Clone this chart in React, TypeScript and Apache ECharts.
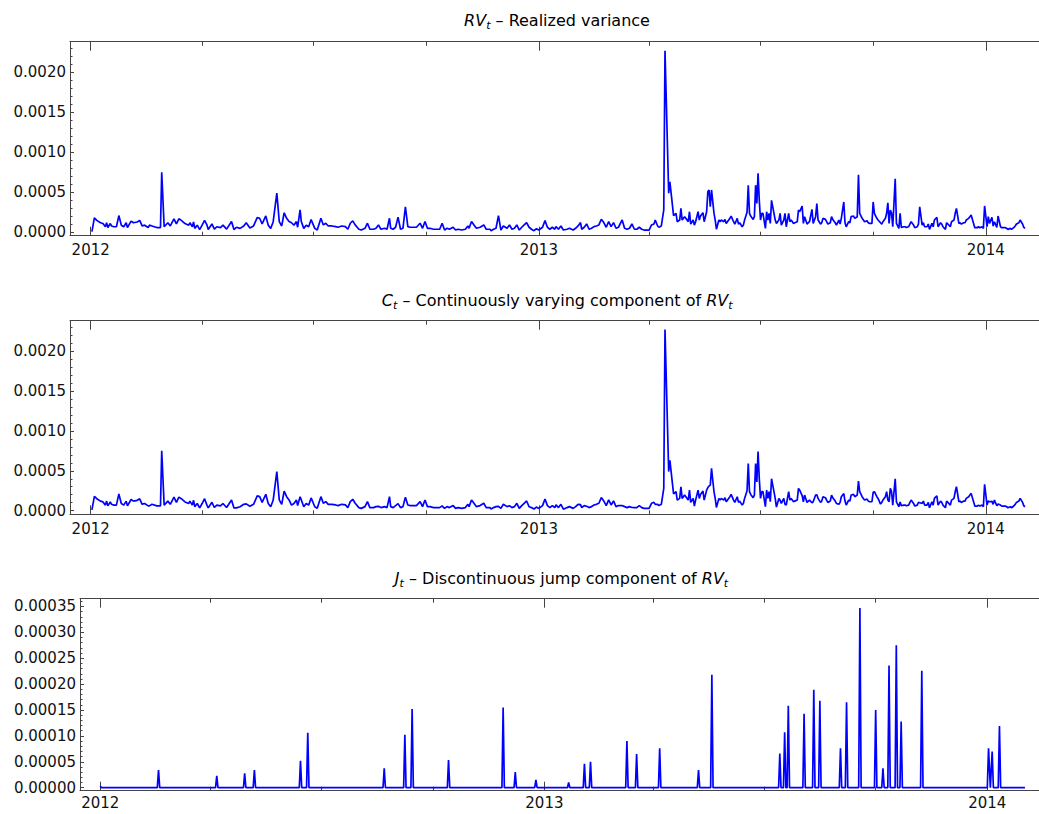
import React, { useEffect, useRef } from "react";
import * as echarts from "echarts";

const FONT = "DejaVu Sans";
const FRAME = "#444444";
const LABEL = "#111111";
const LINE = "#0000ff";
const DAY_MS = 86400000;
const START = Date.UTC(2012, 0, 1);

const yearLabels = ["2012", "2013", "2014"];
const yearDates = ["2012-01-01", "2013-01-01", "2014-01-01"];
const quarterDates = ["2012-04-01", "2012-07-01", "2012-10-01", "2013-04-01", "2013-07-01", "2013-10-01"];
const rvTickValues = [0, 0.0005, 0.001, 0.0015, 0.002];
const jTickValues = [0, 0.00005, 0.0001, 0.00015, 0.0002, 0.00025, 0.0003, 0.00035];

// [days since 2012-01-01, value]
const rvSeries: [number, number][] = [
  [1, 1e-5], [3, 18e-5], [5, 15e-5], [8, 12e-5], [10, 11e-5], [12, 7e-5], [13, 12e-5], [14, 6e-5], [16, 11e-5], [17, 8e-5],
  [19, 7e-5], [21, 7e-5], [23, 21e-5], [25, 9e-5], [27, 7e-5], [29, 12e-5], [30, 6e-5], [33, 14e-5], [35, 12e-5], [38, 13e-5],
  [40, 15e-5], [42, 8e-5], [44, 9e-5], [47, 6e-5], [48, 9e-5], [50, 8e-5], [54, 6e-5], [57, 6e-5], [58, 75e-5], [60, 7e-5],
  [63, 12e-5], [65, 8e-5], [68, 17e-5], [70, 10.5e-5], [72, 17e-5], [74, 15e-5], [77, 11e-5], [80, 9e-5], [81, 12e-5], [83, 7e-5],
  [84, 13e-5], [85, 5e-5], [87, 9e-5], [89, 3.5e-5], [91, 9e-5], [93, 15e-5], [95, 9e-5], [96, 3.5e-5], [99, 10.5e-5], [101, 4e-5],
  [103, 7e-5], [106, 6e-5], [108, 9e-5], [111, 4e-5], [115, 13.5e-5], [117, 3.5e-5], [119, 6.4e-5], [122, 5e-5], [125, 8e-5], [127, 12e-5],
  [130, 5.5e-5], [133, 8e-5], [136, 18.5e-5], [138, 17.6e-5], [140, 10.5e-5], [143, 20.5e-5], [145, 9e-5], [147, 5e-5], [149, 13e-5], [152, 49e-5],
  [154, 13.5e-5], [156, 8e-5], [158, 24.5e-5], [160, 17.6e-5], [162, 13.5e-5], [164, 12e-5], [166, 9e-5], [168, 13.5e-5], [169, 6.4e-5], [171, 28e-5],
  [172, 13.5e-5], [174, 5e-5], [176, 9e-5], [178, 7e-5], [180, 16e-5], [183, 5e-5], [185, 3e-5], [188, 17.6e-5], [190, 9.3e-5], [192, 11.4e-5],
  [194, 8e-5], [197, 8e-5], [200, 7.2e-5], [202, 6.4e-5], [205, 8e-5], [208, 7.2e-5], [210, 3.9e-5], [212, 11.4e-5], [214, 14.3e-5], [216, 9.3e-5],
  [219, 3.9e-5], [221, 2.9e-5], [224, 5.1e-5], [226, 11.4e-5], [228, 3.9e-5], [231, 3.9e-5], [233, 5.1e-5], [235, 9.3e-5], [237, 3.9e-5], [240, 5.1e-5],
  [242, 3.9e-5], [244, 17.6e-5], [245, 5.1e-5], [247, 3.9e-5], [249, 6.4e-5], [251, 19e-5], [253, 3.9e-5], [255, 5.1e-5], [257, 32e-5], [259, 7.2e-5],
  [261, 6.4e-5], [264, 6.4e-5], [266, 6.4e-5], [269, 11.4e-5], [271, 5.1e-5], [273, 13.5e-5], [275, 5.1e-5], [277, 5.1e-5], [280, 3.9e-5], [283, 3.9e-5],
  [285, 3.9e-5], [287, 11.4e-5], [289, 2.9e-5], [291, 5.1e-5], [293, 3.9e-5], [296, 6.4e-5], [298, 2.9e-5], [300, 3.9e-5], [303, 2.9e-5], [306, 3.9e-5],
  [308, 8e-5], [309, 5.1e-5], [311, 13.5e-5], [313, 9.3e-5], [315, 5.1e-5], [318, 6.4e-5], [321, 9.3e-5], [323, 3.9e-5], [326, 3.9e-5], [327, 2.1e-5],
  [329, 3.9e-5], [331, 5.1e-5], [333, 21e-5], [335, 2.9e-5], [337, 8e-5], [340, 5.1e-5], [342, 9.3e-5], [344, 3.9e-5], [346, 5.1e-5], [348, 9.3e-5],
  [350, 2.9e-5], [352, 6.4e-5], [354, 9.3e-5], [356, 12.2e-5], [358, 6.4e-5], [360, 3.9e-5], [362, 2.1e-5], [364, 4.5e-5], [366, 2.9e-5], [369, 6.4e-5],
  [371, 14.7e-5], [373, 6.4e-5], [375, 3.9e-5], [377, 6.4e-5], [379, 3.9e-5], [380, 7.2e-5], [382, 3.9e-5], [384, 8e-5], [386, 2.9e-5], [389, 3.9e-5],
  [391, 5.1e-5], [394, 2.9e-5], [396, 5.1e-5], [398, 8e-5], [400, 12.2e-5], [401, 3.9e-5], [403, 6.4e-5], [405, 10.5e-5], [407, 3.9e-5], [409, 5.1e-5],
  [411, 7.2e-5], [413, 8e-5], [415, 9.3e-5], [417, 16.4e-5], [419, 12.2e-5], [421, 6.4e-5], [423, 13.5e-5], [425, 7.2e-5], [427, 12.2e-5], [429, 5.1e-5],
  [431, 6.4e-5], [434, 15.5e-5], [436, 5.1e-5], [438, 3.9e-5], [440, 5.1e-5], [442, 10.5e-5], [444, 3.9e-5], [446, 3.9e-5], [448, 6.4e-5], [450, 3.9e-5],
  [452, 2.9e-5], [454, 2.9e-5], [456, 2.9e-5], [458, 9.3e-5], [460, 10.5e-5], [461, 15.5e-5], [463, 8e-5], [464, 6.4e-5], [466, 8e-5], [468, 28e-5],
  [469, 227e-5], [472, 49e-5], [473, 63e-5], [474, 49e-5], [476, 21e-5], [478, 23.8e-5], [479, 13.3e-5], [481, 15.4e-5], [482, 30e-5], [483, 15.4e-5],
  [485, 19.6e-5], [486, 17.5e-5], [488, 13.3e-5], [489, 25.8e-5], [490, 10.4e-5], [492, 15.4e-5], [493, 9.1e-5], [494, 13.3e-5], [496, 25.8e-5], [497, 15.4e-5],
  [498, 20.4e-5], [500, 24.6e-5], [501, 13.3e-5], [503, 25.8e-5], [504, 51e-5], [505, 53e-5], [506, 32e-5], [507, 53e-5], [509, 24e-5], [510, 15.4e-5],
  [511, 4e-5], [513, 15.4e-5], [514, 13.3e-5], [515, 15.4e-5], [517, 13.3e-5], [518, 16.2e-5], [519, 11.2e-5], [521, 15.4e-5], [522, 17.5e-5], [523, 20.4e-5],
  [525, 13.3e-5], [526, 10.4e-5], [528, 17.5e-5], [529, 10.4e-5], [530, 12e-5], [532, 7e-5], [533, 9.1e-5], [534, 15.4e-5], [536, 25e-5], [537, 59e-5],
  [538, 23.8e-5], [539, 20.4e-5], [541, 16.2e-5], [542, 19.6e-5], [543, 59e-5], [544, 36e-5], [545, 74e-5], [546, 40e-5], [547, 15.4e-5], [548, 23.8e-5],
  [549, 23.8e-5], [551, 5e-5], [552, 25.8e-5], [553, 15.4e-5], [554, 23.8e-5], [555, 11.2e-5], [556, 40e-5], [558, 23.8e-5], [559, 15.4e-5], [560, 11.2e-5],
  [562, 15.4e-5], [563, 23.8e-5], [564, 9.1e-5], [566, 15.4e-5], [567, 23.8e-5], [568, 7e-5], [570, 23.8e-5], [571, 13.3e-5], [572, 15.4e-5], [574, 11.2e-5],
  [575, 12e-5], [577, 13.3e-5], [578, 27.9e-5], [579, 25.8e-5], [581, 33e-5], [582, 11.2e-5], [583, 19.6e-5], [585, 10.4e-5], [586, 12e-5], [587, 13.3e-5],
  [589, 28.7e-5], [590, 11.2e-5], [592, 19.6e-5], [593, 36e-5], [594, 15.4e-5], [596, 10.4e-5], [597, 12e-5], [598, 17.5e-5], [600, 16.2e-5], [601, 13.3e-5],
  [602, 10.4e-5], [604, 12e-5], [605, 19.6e-5], [606, 16.2e-5], [608, 12e-5], [609, 9.1e-5], [611, 15.4e-5], [612, 10.4e-5], [613, 17.5e-5], [615, 38e-5],
  [616, 12e-5], [617, 7e-5], [619, 13.3e-5], [620, 12e-5], [621, 19.6e-5], [623, 20.4e-5], [624, 17.5e-5], [626, 19.6e-5], [627, 72e-5], [628, 23.8e-5],
  [630, 17.5e-5], [631, 15.4e-5], [632, 13.3e-5], [634, 14.5e-5], [635, 12e-5], [636, 11.2e-5], [638, 11.2e-5], [639, 38e-5], [640, 23.8e-5], [642, 17.5e-5],
  [643, 15.4e-5], [645, 12e-5], [646, 10.4e-5], [647, 13.3e-5], [649, 17.5e-5], [650, 23.8e-5], [651, 37e-5], [652, 11.2e-5], [653, 28e-5], [654, 24e-5],
  [655, 7e-5], [657, 67e-5], [658, 11.2e-5], [660, 5e-5], [661, 23.8e-5], [662, 6.2e-5], [664, 7e-5], [665, 7e-5], [666, 6.2e-5], [668, 7e-5],
  [669, 10.4e-5], [670, 13.3e-5], [672, 9.1e-5], [673, 5.8e-5], [675, 7e-5], [676, 10.4e-5], [677, 32e-5], [679, 9.1e-5], [680, 12e-5], [681, 7e-5],
  [683, 7e-5], [684, 10.4e-5], [685, 3.7e-5], [687, 11.2e-5], [688, 7e-5], [689, 15.4e-5], [691, 18.7e-5], [692, 7e-5], [694, 12e-5], [695, 10.4e-5],
  [696, 7e-5], [698, 3.7e-5], [699, 12e-5], [700, 10.4e-5], [702, 7e-5], [703, 13.3e-5], [705, 15.4e-5], [706, 23.8e-5], [707, 30e-5], [709, 11.2e-5],
  [710, 12e-5], [711, 10.4e-5], [713, 12e-5], [714, 12e-5], [715, 15.4e-5], [717, 17.5e-5], [718, 19.6e-5], [719, 21.7e-5], [721, 11.2e-5], [722, 5.8e-5],
  [724, 5.8e-5], [725, 7e-5], [726, 5.8e-5], [728, 7e-5], [729, 5e-5], [730, 33e-5], [732, 7e-5], [733, 19.6e-5], [734, 11.2e-5], [736, 18.7e-5],
  [737, 7.9e-5], [738, 13.3e-5], [740, 6.2e-5], [741, 20.4e-5], [743, 7e-5], [744, 5.8e-5], [745, 5.8e-5], [747, 5.8e-5], [748, 5e-5], [749, 3.7e-5],
  [751, 5e-5], [752, 3.7e-5], [754, 6.2e-5], [755, 7.9e-5], [756, 10.4e-5], [758, 12e-5], [759, 15.4e-5], [761, 10.4e-5], [762, 6.2e-5], [763, 5e-5],
];

const cSeries: [number, number][] = [
  [1, 1e-5], [3, 18e-5], [5, 15e-5], [8, 12e-5], [10, 11e-5], [12, 7e-5], [13, 12e-5], [14, 6e-5], [16, 11e-5], [17, 8e-5],
  [19, 7e-5], [21, 7e-5], [23, 21e-5], [25, 9e-5], [27, 7e-5], [29, 12e-5], [30, 6e-5], [33, 14e-5], [35, 12e-5], [38, 13e-5],
  [40, 15e-5], [42, 8e-5], [44, 9e-5], [47, 6e-5], [48, 6e-5], [50, 8e-5], [54, 6e-5], [57, 6e-5], [58, 75e-5], [60, 7e-5],
  [63, 12e-5], [65, 8e-5], [68, 17e-5], [70, 10.5e-5], [72, 17e-5], [74, 15e-5], [77, 11e-5], [80, 9e-5], [81, 12e-5], [83, 7e-5],
  [84, 13e-5], [85, 5e-5], [87, 9e-5], [89, 3.5e-5], [91, 9e-5], [93, 15e-5], [95, 6.7e-5], [96, 3.5e-5], [99, 10.5e-5], [101, 4e-5],
  [103, 7e-5], [106, 6e-5], [108, 9e-5], [111, 4e-5], [115, 13.5e-5], [117, 3.5e-5], [119, 3.6e-5], [122, 5e-5], [125, 8e-5], [127, 8.6e-5],
  [130, 5.5e-5], [133, 8e-5], [136, 18.5e-5], [138, 17.6e-5], [140, 10.5e-5], [143, 20.5e-5], [145, 9e-5], [147, 5e-5], [149, 13e-5], [152, 49e-5],
  [154, 13.5e-5], [156, 8e-5], [158, 24.5e-5], [160, 17.6e-5], [162, 13.5e-5], [164, 7e-5], [166, 9e-5], [168, 13.5e-5], [169, 6.4e-5], [171, 17.4e-5],
  [172, 13.5e-5], [174, 5e-5], [176, 9e-5], [178, 7e-5], [180, 16e-5], [183, 5e-5], [185, 3e-5], [188, 17.6e-5], [190, 9.3e-5], [192, 11.4e-5],
  [194, 8e-5], [197, 8e-5], [200, 7.2e-5], [202, 6.4e-5], [205, 8e-5], [208, 7.2e-5], [210, 3.9e-5], [212, 11.4e-5], [214, 14.3e-5], [216, 9.3e-5],
  [219, 3.9e-5], [221, 2.9e-5], [224, 5.1e-5], [226, 11.4e-5], [228, 3.9e-5], [231, 3.9e-5], [233, 5.1e-5], [235, 5.5e-5], [237, 3.9e-5], [240, 5.1e-5],
  [242, 3.9e-5], [244, 17.6e-5], [245, 5.1e-5], [247, 3.9e-5], [249, 6.4e-5], [251, 8.8e-5], [253, 3.9e-5], [255, 5.1e-5], [257, 16.8e-5], [259, 7.2e-5],
  [261, 6.4e-5], [264, 6.4e-5], [266, 6.4e-5], [269, 11.4e-5], [271, 5.1e-5], [273, 13.5e-5], [275, 5.1e-5], [277, 5.1e-5], [280, 3.9e-5], [283, 3.9e-5],
  [285, 3.9e-5], [287, 6e-5], [289, 2.9e-5], [291, 5.1e-5], [293, 3.9e-5], [296, 6.4e-5], [298, 2.9e-5], [300, 3.9e-5], [303, 2.9e-5], [306, 3.9e-5],
  [308, 8e-5], [309, 5.1e-5], [311, 13.5e-5], [313, 9.3e-5], [315, 5.1e-5], [318, 6.4e-5], [321, 9.3e-5], [323, 3.9e-5], [326, 3.9e-5], [327, 2.1e-5],
  [329, 3.9e-5], [331, 5.1e-5], [333, 5.5e-5], [335, 2.9e-5], [337, 8e-5], [340, 5.1e-5], [342, 6.3e-5], [344, 3.9e-5], [346, 5.1e-5], [348, 9.3e-5],
  [350, 2.9e-5], [352, 6.4e-5], [354, 9.3e-5], [356, 12.2e-5], [358, 4.9e-5], [360, 3.9e-5], [362, 2.1e-5], [364, 4.5e-5], [366, 2.9e-5], [369, 6.4e-5],
  [371, 14.7e-5], [373, 6.4e-5], [375, 3.9e-5], [377, 6.4e-5], [379, 3.9e-5], [380, 7.2e-5], [382, 3.9e-5], [384, 8e-5], [386, 1.9e-5], [389, 3.9e-5],
  [391, 5.1e-5], [394, 2.9e-5], [396, 5.1e-5], [398, 8e-5], [400, 7.6e-5], [401, 3.9e-5], [403, 6.4e-5], [405, 5.5e-5], [407, 3.9e-5], [409, 5.1e-5],
  [411, 7.2e-5], [413, 8e-5], [415, 9.3e-5], [417, 16.4e-5], [419, 12.2e-5], [421, 6.4e-5], [423, 13.5e-5], [425, 7.2e-5], [427, 12.2e-5], [429, 5.1e-5],
  [431, 6.4e-5], [434, 6.5e-5], [436, 5.1e-5], [438, 3.9e-5], [440, 5.1e-5], [442, 4e-5], [444, 3.9e-5], [446, 3.9e-5], [448, 6.4e-5], [450, 3.9e-5],
  [452, 2.9e-5], [454, 2.9e-5], [456, 2.9e-5], [458, 9.3e-5], [460, 10.5e-5], [461, 7.9e-5], [463, 8e-5], [464, 6.4e-5], [466, 8e-5], [468, 28e-5],
  [469, 227e-5], [472, 49e-5], [473, 63e-5], [474, 49e-5], [476, 21e-5], [478, 23.8e-5], [479, 13.3e-5], [481, 15.4e-5], [482, 30e-5], [483, 15.4e-5],
  [485, 19.6e-5], [486, 17.5e-5], [488, 13.3e-5], [489, 25.8e-5], [490, 10.4e-5], [492, 15.4e-5], [493, 5.7e-5], [494, 13.3e-5], [496, 25.8e-5], [497, 15.4e-5],
  [498, 20.4e-5], [500, 24.6e-5], [501, 13.3e-5], [503, 25.8e-5], [504, 29e-5], [505, 31e-5], [506, 32e-5], [507, 53e-5], [509, 24e-5], [510, 15.4e-5],
  [511, 4e-5], [513, 15.4e-5], [514, 13.3e-5], [515, 15.4e-5], [517, 13.3e-5], [518, 16.2e-5], [519, 11.2e-5], [521, 15.4e-5], [522, 17.5e-5], [523, 20.4e-5],
  [525, 13.3e-5], [526, 10.4e-5], [528, 17.5e-5], [529, 10.4e-5], [530, 12e-5], [532, 7e-5], [533, 9.1e-5], [534, 15.4e-5], [536, 25e-5], [537, 59e-5],
  [538, 23.8e-5], [539, 20.4e-5], [541, 16.2e-5], [542, 19.6e-5], [543, 59e-5], [544, 36e-5], [545, 74e-5], [546, 40e-5], [547, 15.4e-5], [548, 23.8e-5],
  [549, 23.8e-5], [551, 5e-5], [552, 25.8e-5], [553, 15.4e-5], [554, 23.8e-5], [555, 11.2e-5], [556, 40e-5], [558, 23.8e-5], [559, 15.4e-5], [560, 4.6e-5],
  [562, 15.4e-5], [563, 13e-5], [564, 9.1e-5], [566, 15.4e-5], [567, 8e-5], [568, 7e-5], [570, 23.8e-5], [571, 13.3e-5], [572, 15.4e-5], [574, 11.2e-5],
  [575, 12e-5], [577, 13.3e-5], [578, 27.9e-5], [579, 25.8e-5], [581, 19e-5], [582, 11.2e-5], [583, 19.6e-5], [585, 10.4e-5], [586, 12e-5], [587, 13.3e-5],
  [589, 10e-5], [590, 11.2e-5], [592, 19.6e-5], [593, 20e-5], [594, 15.4e-5], [596, 10.4e-5], [597, 12e-5], [598, 17.5e-5], [600, 16.2e-5], [601, 13.3e-5],
  [602, 10.4e-5], [604, 12e-5], [605, 19.6e-5], [606, 16.2e-5], [608, 12e-5], [609, 9.1e-5], [611, 8e-5], [612, 10.4e-5], [613, 17.5e-5], [615, 21.5e-5],
  [616, 12e-5], [617, 7e-5], [619, 13.3e-5], [620, 12e-5], [621, 19.6e-5], [623, 20.4e-5], [624, 17.5e-5], [626, 19.6e-5], [627, 37e-5], [628, 23.8e-5],
  [630, 17.5e-5], [631, 15.4e-5], [632, 13.3e-5], [634, 14.5e-5], [635, 12e-5], [636, 11.2e-5], [638, 11.2e-5], [639, 23e-5], [640, 23.8e-5], [642, 17.5e-5],
  [643, 15.4e-5], [645, 8.3e-5], [646, 10.4e-5], [647, 13.3e-5], [649, 17.5e-5], [650, 23.8e-5], [651, 13.4e-5], [652, 11.2e-5], [653, 28e-5], [654, 24e-5],
  [655, 7e-5], [657, 40e-5], [658, 11.2e-5], [660, 5e-5], [661, 11e-5], [662, 6.2e-5], [664, 7e-5], [665, 7e-5], [666, 6.2e-5], [668, 7e-5],
  [669, 10.4e-5], [670, 13.3e-5], [672, 9.1e-5], [673, 5.8e-5], [675, 7e-5], [676, 10.4e-5], [677, 10e-5], [679, 9.1e-5], [680, 12e-5], [681, 7e-5],
  [683, 7e-5], [684, 10.4e-5], [685, 3.7e-5], [687, 11.2e-5], [688, 7e-5], [689, 15.4e-5], [691, 18.7e-5], [692, 7e-5], [694, 12e-5], [695, 10.4e-5],
  [696, 7e-5], [698, 3.7e-5], [699, 12e-5], [700, 10.4e-5], [702, 7e-5], [703, 13.3e-5], [705, 15.4e-5], [706, 23.8e-5], [707, 30e-5], [709, 11.2e-5],
  [710, 12e-5], [711, 10.4e-5], [713, 12e-5], [714, 12e-5], [715, 15.4e-5], [717, 17.5e-5], [718, 19.6e-5], [719, 21.7e-5], [721, 11.2e-5], [722, 5.8e-5],
  [724, 5.8e-5], [725, 7e-5], [726, 5.8e-5], [728, 7e-5], [729, 5e-5], [730, 33e-5], [732, 7e-5], [733, 12e-5], [734, 11.2e-5], [736, 11.7e-5],
  [737, 7.9e-5], [738, 13.3e-5], [740, 6.2e-5], [741, 8.5e-5], [743, 7e-5], [744, 5.8e-5], [745, 5.8e-5], [747, 5.8e-5], [748, 5e-5], [749, 3.7e-5],
  [751, 5e-5], [752, 3.7e-5], [754, 6.2e-5], [755, 7.9e-5], [756, 10.4e-5], [758, 12e-5], [759, 15.4e-5], [761, 10.4e-5], [762, 6.2e-5], [763, 5e-5],
];

const jSeries: [number, number][] = [
  [0, 0.3e-5], [1, 0], [47, 0], [48, 3.4e-5], [49, 0], [95, 0], [96, 2.3e-5], [97, 0], [118, 0], [119, 2.8e-5],
  [120, 0], [126, 0], [127, 3.4e-5], [128, 0], [164, 0], [165, 5.2e-5], [166, 0], [170, 0], [171, 10.6e-5], [172, 0],
  [233, 0], [234, 3.75e-5], [235, 0], [250, 0], [251, 10.2e-5], [252, 0], [256, 0], [257, 15.2e-5], [258, 0], [286, 0],
  [287, 5.35e-5], [288, 0], [331, 0], [332, 15.5e-5], [333, 0], [341, 0], [342, 3e-5], [343, 0], [358, 0], [359, 1.5e-5],
  [360, 0], [385, 0], [386, 1e-5], [387, 0], [398, 0], [399, 4.6e-5], [400, 0], [403, 0], [404, 5e-5], [405, 0],
  [433, 0], [434, 9e-5], [435, 0], [441, 0], [442, 6.5e-5], [443, 0], [460, 0], [461, 7.6e-5], [462, 0], [492, 0],
  [493, 3.4e-5], [494, 0], [503, 0], [504, 21.8e-5], [505, 0], [559, 0], [560, 6.6e-5], [561, 0], [563, 0], [564, 10.7e-5],
  [565, 0], [566, 0], [567, 15.8e-5], [568, 0], [579, 0], [580, 14.3e-5], [581, 0], [587, 0], [588, 18.9e-5], [589, 0],
  [592, 0], [593, 16.8e-5], [594, 0], [609, 0], [610, 7.6e-5], [611, 0], [614, 0], [615, 16.5e-5], [616, 0], [625, 0],
  [626, 34.7e-5], [627, 0], [638, 0], [639, 15e-5], [640, 0], [644, 0], [645, 3.75e-5], [646, 0], [649, 0], [650, 23.6e-5],
  [651, 0], [655, 0], [656, 27.5e-5], [657, 0], [659, 0], [660, 12.8e-5], [661, 0], [676, 0], [677, 22.6e-5], [678, 0],
  [731, 0], [732, 7.6e-5], [733.5, 0], [735, 7e-5], [736, 0], [740, 0], [741, 11.9e-5], [742, 0], [762, 0],
];

const panels = [
  {
    data: rvSeries, left: 70, top: 41.7, height: 194, xFrom: -16.9, xTo: 778.1, labelMargin: 7,
    yMin: -0.0000417, yMax: 0.0023833, majors: rvTickValues, minorStep: 0.0001, decimals: 4,
    title: "{i|RV}{s|t} – Realized variance", tx: 557, ty: 20.8,
  },
  {
    data: cSeries, left: 70, top: 320.7, height: 193.6, xFrom: -16.9, xTo: 778.1, labelMargin: 7,
    yMin: -0.0000451, yMax: 0.0023795, majors: rvTickValues, minorStep: 0.0001, decimals: 4,
    title: "{i|C}{s|t} – Continuously varying component of {i|RV}{s|t}", tx: 557.2, ty: 300.8,
  },
  {
    data: jSeries, left: 80, top: 598.7, height: 192, xFrom: -16.7, xTo: 777.3, labelMargin: 5,
    yMin: -0.0000058, yMax: 0.000365, majors: jTickValues, minorStep: 0.00001, decimals: 5,
    title: "{i|J}{s|t} – Discontinuous jump component of {i|RV}{s|t}", tx: 561.5, ty: 578.5,
  },
];

function buildOption() {
  const grid: any[] = [];
  const xAxis: any[] = [];
  const yAxis: any[] = [];
  const series: any[] = [];
  const graphic: any[] = [];
  const years = yearDates.map((d) => Date.parse(d));
  const quarters = quarterDates.map((d) => Date.parse(d));

  panels.forEach((p, i) => {
    grid.push({ left: p.left, top: p.top, height: p.height, right: 0.5, containLabel: false, outerBoundsMode: "none" });
    const base = {
      type: "value",
      gridIndex: i,
      min: START + p.xFrom * DAY_MS,
      max: START + p.xTo * DAY_MS,
      splitLine: { show: false },
      splitArea: { show: false },
      axisLine: { show: true, onZero: false, lineStyle: { color: FRAME, width: 1 } },
    };
    for (const pos of ["bottom", "top"]) {
      xAxis.push({
        ...base,
        position: pos,
        axisTick: { show: true, inside: true, length: 4, customValues: quarters, lineStyle: { color: FRAME, width: 1 } },
        axisLabel: { show: false },
      });
      xAxis.push({
        ...base,
        position: pos,
        axisLine: { show: false, onZero: false },
        axisTick: { show: true, inside: true, length: 9, customValues: years, lineStyle: { color: FRAME, width: 1 } },
        axisLabel:
          pos === "bottom"
            ? {
                show: true,
                customValues: years,
                formatter: (v: number) => {
                  const k = years.indexOf(v);
                  return k >= 0 ? yearLabels[k] : "";
                },
                margin: p.labelMargin,
                fontSize: 15,
                fontFamily: FONT,
                color: LABEL,
              }
            : { show: false },
      });
    }
    const minors: number[] = [];
    for (let k = 1; k * p.minorStep <= p.yMax; k++) {
      if (k % 5 !== 0) minors.push(k * p.minorStep);
    }
    yAxis.push({
      type: "value",
      gridIndex: i,
      position: "left",
      min: p.yMin,
      max: p.yMax,
      splitLine: { show: false },
      axisLine: { show: true, onZero: false, lineStyle: { color: FRAME, width: 1 } },
      axisTick: { show: true, inside: true, length: 4, customValues: p.majors, lineStyle: { color: FRAME, width: 1 } },
      axisLabel: {
        show: true,
        customValues: p.majors,
        formatter: (v: number) => v.toFixed(p.decimals),
        margin: 4,
        fontSize: 15,
        fontFamily: FONT,
        color: LABEL,
      },
    });
    yAxis.push({
      type: "value",
      gridIndex: i,
      position: "left",
      min: p.yMin,
      max: p.yMax,
      splitLine: { show: false },
      axisLine: { show: false, onZero: false },
      axisTick: { show: true, inside: true, length: 2.5, customValues: minors, lineStyle: { color: FRAME, width: 1 } },
      axisLabel: { show: false },
    });
    series.push({
      type: "line",
      xAxisIndex: i * 4,
      yAxisIndex: i * 2,
      data: p.data.map(([d, v]) => [START + d * DAY_MS, v]),
      showSymbol: false,
      symbol: "none",
      clip: true,
      silent: true,
      lineStyle: { color: LINE, width: 1.7 },
      itemStyle: { color: LINE },
    });
    graphic.push({
      type: "text",
      x: p.tx,
      y: p.ty,
      silent: true,
      style: {
        text: p.title,
        fontFamily: FONT,
        fontSize: 16,
        lineHeight: 20,
        fill: "#000",
        align: "center",
        verticalAlign: "middle",
        rich: {
          i: { fontFamily: FONT, fontSize: 16, fontStyle: "italic", lineHeight: 20, fill: "#000" },
          s: { fontFamily: FONT, fontSize: 11, fontStyle: "italic", lineHeight: 11, verticalAlign: "bottom", fill: "#000" },
        },
      },
    });
  });

  return {
    animation: false,
    backgroundColor: "#ffffff",
    textStyle: { fontFamily: FONT },
    grid,
    xAxis,
    yAxis,
    series,
    graphic,
  };
}

export default function App() {
  const ref = useRef<HTMLDivElement>(null);
  useEffect(() => {
    if (!ref.current) return;
    const chart = echarts.init(ref.current, null, { renderer: "svg" });
    chart.setOption(buildOption() as any);
    return () => chart.dispose();
  }, []);
  return (
    <div style={{ position: "fixed", left: 0, top: 0, width: 1039, height: 814, overflow: "hidden", background: "#fff" }}>
      <div ref={ref} style={{ width: 1044, height: 814 }} />
    </div>
  );
}
